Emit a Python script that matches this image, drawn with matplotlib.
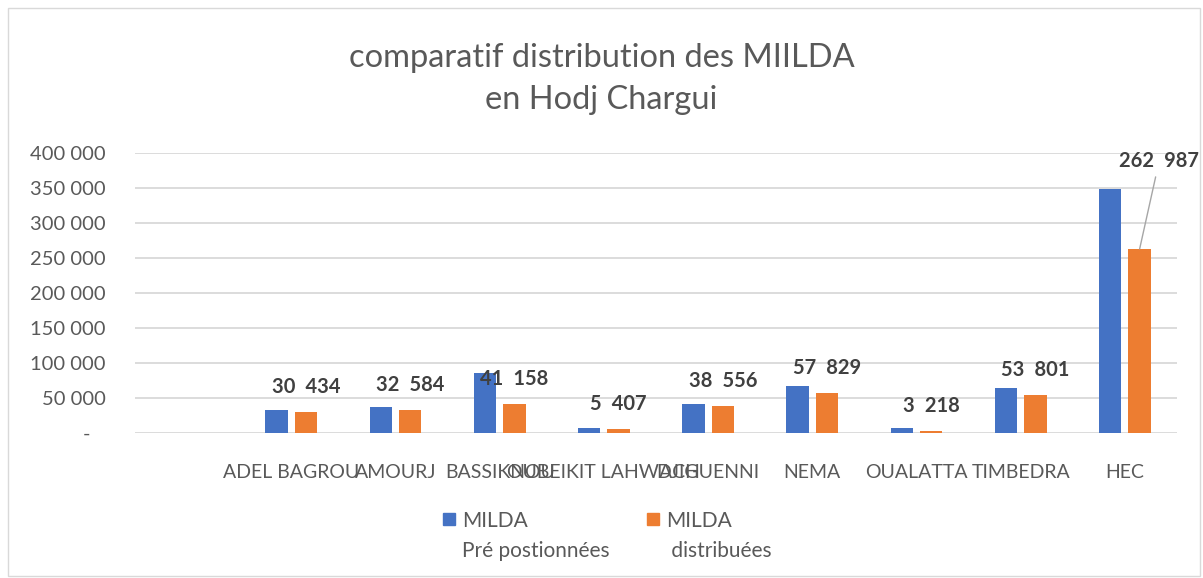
import numpy as np
import matplotlib.pyplot as plt
from matplotlib.patches import Rectangle

# data (first slot has no data)
categories = ["", "ADEL BAGROU", "AMOURJ", "BASSIKNOU", "OUBEIKIT LAHWACH",
              "DJIGUENNI", "NEMA", "OUALATTA", "TIMBEDRA", "HEC"]
pre_positionnees = [np.nan, 33000, 37500, 85500, 7500, 42000, 67000, 7500, 64500, 348000]
distribuees = [np.nan, 30434, 32584, 41158, 5407, 38556, 57829, 3218, 53801, 262987]
series_names = ["MILDA\nPré postionnées", "MILDA\n distribuées"]
yticks = [0, 50000, 100000, 150000, 200000, 250000, 300000, 350000, 400000]

title = "comparatif distribution des MIILDA\nen Hodj Chargui"
blue = "#4472C4"
orange = "#ED7D31"
grey_text = "#595959"
label_col = "#404040"
grid_col = "#D9D9D9"


def fmt(v, sep=" "):
    if v == 0:
        return "-   "
    return f"{int(v):,}".replace(",", sep)


def main():
    plt.rcParams['font.family'] = ['Lato', 'DejaVu Sans']
    fig = plt.figure(figsize=(12.03, 5.78), dpi=100)
    W, H = 1203, 578
    ax = fig.add_axes([135 / W, 1 - 433 / H, 1042 / W, 280 / H])

    x = np.arange(len(categories))
    w = 0.215
    off = 0.1415
    ax.bar(x - off, pre_positionnees, w, color=blue, zorder=3)
    ax.bar(x + off, distribuees, w, color=orange, zorder=3)

    # data labels on the orange series
    for i, v in enumerate(distribuees):
        if np.isnan(v):
            continue
        if categories[i] == "HEC":
            ax.annotate(fmt(v, "\u2002"), xy=(i + off, v), xytext=(14, 63),
                        textcoords="offset points", ha="center", va="center",
                        fontsize=14.5, fontweight="bold", color=label_col,
                        arrowprops=dict(arrowstyle="-", color="#A6A6A6", lw=1,
                                        shrinkA=2, shrinkB=0))
        else:
            ax.annotate(fmt(v, "\u2002"), xy=(i + off, v), xytext=(0, 18),
                        textcoords="offset points", ha="center", va="center",
                        fontsize=14.5, fontweight="bold", color=label_col)

    ax.set_xlim(-0.5, len(categories) - 0.5)
    ax.set_ylim(0, 400000)
    ax.set_yticks(yticks)
    ax.set_yticklabels([fmt(t) for t in yticks])
    ax.set_xticks(x)
    ax.set_xticklabels(categories)
    ax.tick_params(axis="both", length=0, labelsize=14, colors=grey_text)
    ax.tick_params(axis="y", labelsize=14.5, pad=21)
    ax.tick_params(axis="x", pad=22)
    ax.grid(axis="y", color=grid_col, lw=1.3, zorder=0)
    for s in ax.spines.values():
        s.set_visible(False)

    fig.text(0.5, 1 - 79 / H, title, ha="center", va="center", fontsize=23.5,
             color=grey_text, linespacing=1.5)

    # legend
    for col, xs, name in [(blue, 443, series_names[0]),
                          (orange, 647, series_names[1])]:
        fig.add_artist(Rectangle((xs / W, 1 - 525 / H), 12 / W, 12 / H,
                                 transform=fig.transFigure, color=col))
        fig.text((xs + 19) / W, 1 - 511 / H, name, ha="left", va="top",
                 fontsize=15, color=grey_text, linespacing=1.65)

    # chart border
    fig.add_artist(Rectangle((8 / W, 2 / H), 1192 / W, 568 / H,
                             transform=fig.transFigure, fill=False,
                             edgecolor=grid_col, lw=1))

    plt.savefig("out.png", dpi=100)


if __name__ == "__main__":
    main()
